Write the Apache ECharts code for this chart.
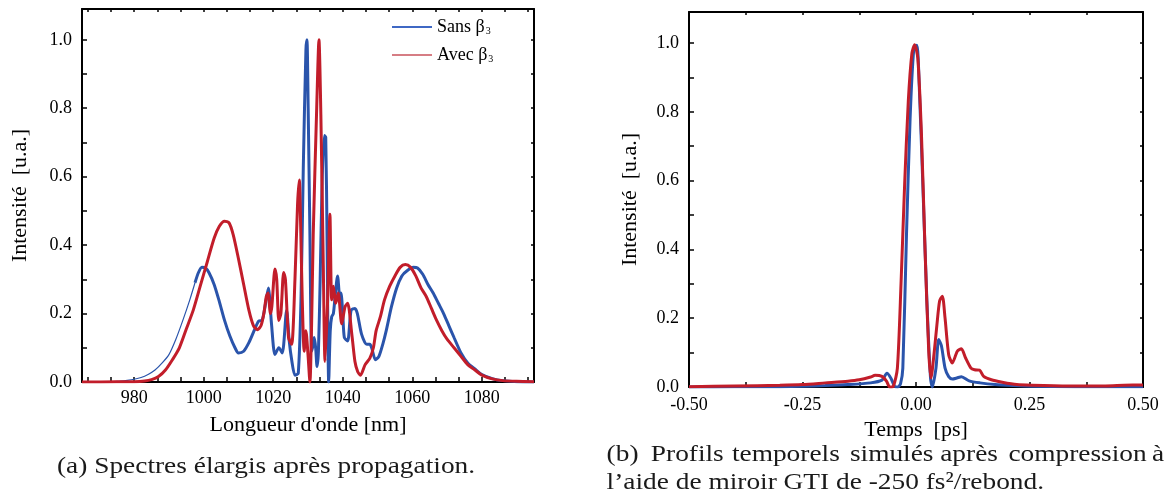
<!DOCTYPE html>
<html><head><meta charset="utf-8">
<script src="https://cdn.jsdelivr.net/npm/echarts@6/dist/echarts.min.js"></script>
<style>html,body{margin:0;padding:0;background:#fff}#c{width:1165px;height:498px}</style>
</head><body><div id="c"></div>
<script>
// ---------- data ----------
const specBlueX = [965,970,975,978,980,982,984,986,988,990,992,994,996,997.5,998.5,999.5,1000.5,1001.5,1003,1004.5,1006,1007.5,1009,1010,1011.5,1013,1014.5,1015.8,1016.8,1017.8,1018.6,1019.5,1020.5,1021.6,1022.6,1023.85,1024.6,1025.3,1026.25,1027.2,1028.0,1028.65,1029.4,1029.7,1030.05,1030.55,1031.05,1031.5,1031.8,1032.2,1032.6,1033.0,1033.5,1034.1,1034.7,1035.1,1035.5,1035.95,1036.4,1036.8,1037.3,1037.8,1038.5,1039.2,1039.5,1040.0,1040.45,1041.4,1042.4,1043.5,1044.2,1045.4,1046.9,1047.8,1048.3,1049.4,1050.4,1051.5,1052.5,1054,1055.5,1057,1058.5,1060.3,1061.5,1063,1064.5,1066,1067.5,1069,1070.5,1072,1074,1076,1078,1080,1083,1086,1090,1095];
const specBlueY = [0,0.0005,0.002,0.005,0.008,0.013,0.022,0.035,0.055,0.08,0.125,0.18,0.24,0.29,0.32,0.335,0.333,0.32,0.285,0.235,0.18,0.135,0.1,0.085,0.09,0.115,0.15,0.178,0.18,0.23,0.275,0.17,0.08,0.1,0.085,0.21,0.12,0.065,0.02,0.025,0.25,0.63,0.97,1.0,0.8,0.43,0.09,0.11,0.13,0.1,0.045,0.09,0.3,0.6,0.72,0.715,0.4,0.0,0.15,0.19,0.2,0.25,0.31,0.24,0.26,0.2,0.13,0.12,0.21,0.215,0.2,0.14,0.11,0.11,0.1,0.065,0.075,0.11,0.15,0.22,0.275,0.31,0.325,0.335,0.333,0.315,0.285,0.26,0.23,0.2,0.165,0.13,0.085,0.055,0.038,0.022,0.01,0.004,0.001,0];

const specRedX = [965,975,980,983,985,987,989,991,993,995,997,999,1001,1003,1004.5,1006,1007.3,1008.5,1010,1011.5,1013,1014.3,1015.5,1016.5,1017.3,1018,1018.5,1019.2,1019.6,1020.5,1021,1021.6,1022.2,1023.0,1023.5,1024.4,1025.3,1026.25,1027.0,1027.5,1027.9,1028.35,1028.9,1029.4,1030.0,1030.55,1031.0,1031.5,1032.5,1033.15,1033.7,1034.4,1034.9,1035.65,1036.3,1036.8,1037.3,1038.0,1038.7,1039.7,1040.65,1041.4,1042.6,1043.5,1044.3,1045.1,1046.4,1047.8,1048.8,1049.6,1050.8,1052,1053.5,1055,1056.5,1058,1059.5,1061,1062.5,1064,1065.5,1067,1068.5,1070,1072,1074,1076,1078,1080,1083,1086,1090,1095];
const specRedY = [0,0.0005,0.001,0.003,0.007,0.016,0.035,0.065,0.1,0.155,0.21,0.28,0.35,0.42,0.455,0.47,0.465,0.43,0.36,0.285,0.21,0.165,0.153,0.165,0.2,0.25,0.26,0.2,0.22,0.33,0.3,0.18,0.2,0.32,0.3,0.13,0.11,0.3,0.52,0.59,0.45,0.24,0.09,0.15,0.08,0.0,0.15,0.43,0.8,1.0,0.78,0.34,0.06,0.24,0.49,0.24,0.28,0.23,0.26,0.17,0.22,0.23,0.14,0.06,0.03,0.02,0.05,0.07,0.1,0.15,0.19,0.24,0.28,0.31,0.335,0.343,0.335,0.31,0.275,0.25,0.215,0.18,0.15,0.125,0.1,0.075,0.05,0.035,0.02,0.009,0.004,0.002,0.001];

const timeBlueX = [-0.5,-0.4,-0.3,-0.25,-0.2,-0.15,-0.1,-0.075,-0.064,-0.055,-0.047,-0.04,-0.034,-0.029,-0.021,-0.013,-0.005,0.002,0.007,0.015,0.024,0.032,0.036,0.044,0.05,0.056,0.064,0.072,0.08,0.09,0.1,0.117,0.141,0.174,0.214,0.255,0.35,0.5];
const timeBlueY = [0,0.0005,0.001,0.002,0.004,0.007,0.012,0.02,0.04,0.025,0.002,0,0.01,0.055,0.44,0.78,0.98,0.993,0.88,0.59,0.25,0.026,0,0.055,0.138,0.12,0.055,0.03,0.023,0.026,0.03,0.018,0.012,0.007,0.004,0.002,0.001,0.001];

const timeRedX = [-0.5,-0.4,-0.3,-0.25,-0.2,-0.15,-0.125,-0.1,-0.09,-0.075,-0.065,-0.058,-0.05,-0.041,-0.033,-0.025,-0.017,-0.009,-0.003,0.004,0.012,0.02,0.028,0.033,0.04,0.046,0.052,0.058,0.064,0.072,0.08,0.091,0.1,0.109,0.121,0.129,0.14,0.149,0.166,0.19,0.222,0.255,0.336,0.417,0.458,0.5];
const timeRedY = [0.001,0.003,0.005,0.007,0.012,0.017,0.021,0.029,0.034,0.031,0.017,0,0.002,0.055,0.3,0.59,0.83,0.97,0.995,0.955,0.735,0.395,0.104,0.026,0.1,0.18,0.25,0.264,0.2,0.094,0.07,0.104,0.111,0.085,0.055,0.05,0.049,0.031,0.021,0.014,0.007,0.005,0.003,0.003,0.005,0.006];

const specTickLabels = [980,1000,1020,1040,1060,1080];
const intensityTickLabels = [0,0.2,0.4,0.6,0.8,1.0];
const timeTickLabels = [-0.5,-0.25,0,0.25,0.5];
const seriesNames = ['Sans β₃','Avec β₃'];

// ---------- helpers ----------
const pairs = (xs, ys) => xs.map((x, i) => [x, ys[i]]);
const range = (a, b, step) => { const r = []; for (let v = a; v <= b + 1e-9; v += step) r.push(+v.toFixed(4)); return r; };
const specTicks = range(980 - 40/3, 1095, 20/3);
const intensityTicks = range(0, 1.0, 0.1);
const timeTicks = range(-0.5, 0.5, 0.125);

const FONT = '"Liberation Serif", "Times New Roman", serif';
const BLUE = '#2a54ab', RED = '#c21d2a';

const bluePairs = pairs(specBlueX, specBlueY);
const blueThin = bluePairs.filter(p => p[0] <= 997.5);
const blueThick = bluePairs.filter(p => p[0] >= 997.5);

function xAx(grid, min, max, ticks, labels, fmt, pos, name, gap, margin) {
  const main = pos === 'bottom';
  return {
    type: 'value', gridIndex: grid, min, max, position: pos,
    axisLine: { show: true, onZero: false, lineStyle: { color: '#000', width: 2 } },
    axisTick: { show: true, inside: true, length: main ? 5 : 3, customValues: ticks, lineStyle: { color: '#000', width: 1.5 } },
    axisLabel: { show: main, customValues: labels, formatter: fmt, fontFamily: FONT, fontSize: 18, color: '#000', margin },
    splitLine: { show: false },
    name: main ? name : '', nameLocation: 'middle', nameGap: gap,
    nameTextStyle: { fontFamily: FONT, fontSize: 22, color: '#000' }
  };
}
function yAx(grid, pos, name, gap) {
  const main = pos === 'left';
  return {
    type: 'value', gridIndex: grid, min: 0, max: 1.09, position: pos,
    axisLine: { show: true, onZero: false, lineStyle: { color: '#000', width: 2 } },
    axisTick: { show: true, inside: true, length: main ? 5 : 3, customValues: intensityTicks, lineStyle: { color: '#000', width: 1.5 } },
    axisLabel: { show: main, customValues: intensityTickLabels, formatter: v => v.toFixed(1), fontFamily: FONT, fontSize: 18, color: '#000', margin: 10 },
    splitLine: { show: false },
    name: main ? name : '', nameLocation: 'middle', nameGap: gap,
    nameTextStyle: { fontFamily: FONT, fontSize: 22, color: '#000' }
  };
}
function line(name, data, xi, yi, color, width, z) {
  return { type: 'line', name, data, xAxisIndex: xi, yAxisIndex: yi, showSymbol: false, symbol: 'none',
           smooth: 0.25, lineStyle: { color, width }, itemStyle: { color }, z, silent: true, animation: false };
}

const chart = echarts.init(document.getElementById('c'), null, { renderer: 'canvas' });
const capStyle = { fontFamily: FONT, fontSize: 24, fill: '#1a1a1a', align: 'left', verticalAlign: 'middle' };
const capText = (text, x, y) => ({ type: 'text', x, y, scaleX: 1.14, style: Object.assign({ text }, capStyle) });
const line1Words = [['(b)', 606.6], ['Profils', 650.8], ['temporels', 731.9], ['simulés', 849.9], ['après', 940.2], ['compression', 1008.4], ['à', 1152.1]];

chart.setOption({
  animation: false,
  grid: [
    { left: 82, right: 631, top: 9, bottom: 116 },
    { left: 689, right: 22, top: 12, bottom: 111 }
  ],
  xAxis: [
    xAx(0, 965, 1095, specTicks, specTickLabels, v => String(v), 'bottom', "Longueur d'onde [nm]", 32, 7),
    xAx(0, 965, 1095, specTicks, specTickLabels, v => String(v), 'top', '', 0, 0),
    xAx(1, -0.5, 0.5, timeTicks, timeTickLabels, v => v.toFixed(2), 'bottom', 'Temps  [ps]', 24, 9),
    xAx(1, -0.5, 0.5, timeTicks, timeTickLabels, v => v.toFixed(2), 'top', '', 0, 0)
  ],
  yAxis: [
    yAx(0, 'left', 'Intensité  [u.a.]', 51),
    yAx(0, 'right', '', 0),
    yAx(1, 'left', 'Intensité  [u.a.]', 48),
    yAx(1, 'right', '', 0)
  ],
  legend: {
    left: 387, top: 12, orient: 'vertical', itemWidth: 40, itemHeight: 2, itemGap: 8, icon: 'rect',
    data: [
      { name: seriesNames[0], itemStyle: { color: '#3f68c4' } },
      { name: seriesNames[1], itemStyle: { color: '#d67d84' } }
    ],
    formatter: n => '{n|' + n.replace('₃', '') + '}{s|3}',
    textStyle: { fontFamily: FONT, fontSize: 18, color: '#000', lineHeight: 20,
      rich: { n: { fontFamily: FONT, fontSize: 18, color: '#000', lineHeight: 20 },
              s: { fontFamily: FONT, fontSize: 10, color: '#000', padding: [9, 0, 0, 1] } } }
  },
  series: [
    line(seriesNames[0] + ' ', blueThin, 0, 0, BLUE, 1.2, 2),
    line(seriesNames[0], blueThick, 0, 0, BLUE, 3, 2),
    line(seriesNames[1], pairs(specRedX, specRedY), 0, 0, RED, 3, 3),
    line(seriesNames[0], pairs(timeBlueX, timeBlueY), 2, 2, BLUE, 3, 2),
    line(seriesNames[1], pairs(timeRedX, timeRedY), 2, 2, RED, 3, 3)
  ],
  graphic: [
    capText('(a) Spectres élargis après propagation.', 57, 467),
    ...line1Words.map(w => capText(w[0], w[1], 455)),
    capText('l’aide de miroir GTI de -250 fs²/rebond.', 606.6, 483)
  ]
});
</script>
</body></html>
